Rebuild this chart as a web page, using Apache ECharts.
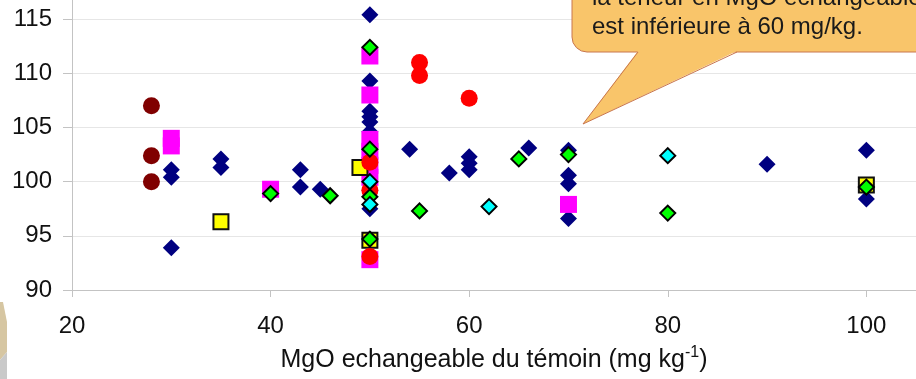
<!DOCTYPE html>
<html>
<head>
<meta charset="utf-8">
<script src="https://cdn.jsdelivr.net/npm/echarts@6/dist/echarts.min.js"></script>
<style>
  html, body { margin: 0; padding: 0; background: #fff; overflow: hidden; }
  body { position: relative; width: 916px; height: 379px; }
  /* the plot top (y = 120) sits above the visible window, as in the cropped slide */
  #chart { position: absolute; left: 0; top: -35px; width: 916px; height: 414px; }
</style>
</head>
<body>
<div id="chart"></div>
<script>
// [MgO du témoin, rendement relatif]
const navyPts = [
  [30, 101.1], [30, 100.4], [30, 93.9], [35, 102.1], [35, 101.3],
  [43, 101.1], [43, 99.5], [45, 99.3],
  [50, 115.4], [50, 109.3], [50, 106.5], [50, 106.0], [50, 105.5], [50, 104.6],
  [50, 99.2], [50, 97.5],
  [54, 103.0], [58, 100.8], [60, 102.3], [60, 101.7], [60, 101.1], [66, 103.1],
  [70, 102.9], [70, 100.6], [70, 99.8], [70, 96.6], [90, 101.6], [100, 102.9], [100, 98.4]
];
const magentaPts = [
  [30, 104.0], [30, 103.3], [40, 99.3],
  [50, 111.6], [50, 108.0], [50, 103.9], [50, 102.8], [50, 101.5], [50, 100.4], [50, 92.8],
  [70, 97.9]
];
const yellowPts = [[35, 96.3], [49, 101.3], [50, 94.6], [100, 99.7]];
const darkRedPts = [[28, 107.0], [28, 102.4], [28, 100.0]];
const redPts = [[50, 101.8], [50, 99.2], [50, 93.1], [55, 111.0], [55, 109.8], [60, 107.7]];
const greenPts = [
  [40, 98.9], [46, 98.7], [50, 112.4], [50, 103.0], [50, 98.6], [50, 94.7],
  [55, 97.3], [65, 102.1], [70, 102.5], [80, 97.1], [100, 99.5]
];
const cyanPts = [[50, 100.0], [50, 97.9], [62, 97.7], [80, 102.4]];

const xTicks = [20, 40, 60, 80, 100];
const yTicks = [90, 95, 100, 105, 110, 115];

const chart = echarts.init(document.getElementById('chart'));

const font = 'Liberation Sans, Arial, sans-serif';
const dy = 35; // chart div is shifted up by this much

const option = {
  animation: false,
  backgroundColor: '#ffffff',
  grid: { left: 72, right: 0, top: 0, bottom: 89 },
  xAxis: {
    type: 'value',
    min: 20,
    max: 105,
    interval: 20,
    axisLine: { show: true, lineStyle: { color: '#c3c3c3', width: 1 } },
    axisTick: { show: true, length: 7, lineStyle: { color: '#c3c3c3' } },
    splitLine: { show: false },
    axisLabel: {
      color: '#111', fontSize: 24, fontFamily: font,
      margin: 24, showMaxLabel: false,
      formatter: v => xTicks.includes(v) ? String(v) : ''
    },
    name: '{t|MgO echangeable du témoin (mg kg}{s|-1}{t|)}',
    nameLocation: 'middle',
    nameGap: 55,
    nameTextStyle: {
      rich: {
        t: { fontSize: 25, color: '#111', fontFamily: font },
        s: { fontSize: 16, color: '#111', fontFamily: font, padding: [0, 0, 14, 0] }
      }
    }
  },
  yAxis: {
    type: 'value',
    min: 90,
    max: 120,
    interval: 5,
    axisLine: { show: true, lineStyle: { color: '#c3c3c3', width: 1 } },
    axisTick: { show: true, length: 9, lineStyle: { color: '#c3c3c3' } },
    splitLine: { show: true, lineStyle: { color: '#e6e6e6', width: 1 } },
    axisLabel: {
      color: '#111', fontSize: 24, fontFamily: font,
      margin: 20,
      formatter: v => yTicks.includes(v) ? String(v) : ''
    }
  },
  series: [
    { name: 'navy', type: 'scatter', data: navyPts, symbol: 'diamond', symbolSize: 17,
      itemStyle: { color: '#000080', opacity: 1 } },
    { name: 'magenta', type: 'scatter', data: magentaPts, symbol: 'rect', symbolSize: [17, 17],
      itemStyle: { color: '#ff00ff', opacity: 1 } },
    { name: 'yellow', type: 'scatter', data: yellowPts, symbol: 'rect', symbolSize: 15,
      itemStyle: { color: '#ffff00', borderColor: '#111', borderWidth: 2, opacity: 1 } },
    { name: 'darkred', type: 'scatter', data: darkRedPts, symbol: 'circle', symbolSize: 17,
      itemStyle: { color: '#800000', opacity: 1 } },
    { name: 'red', type: 'scatter', data: redPts, symbol: 'circle', symbolSize: 17,
      itemStyle: { color: '#ff0000', opacity: 1 } },
    { name: 'green', type: 'scatter', data: greenPts, symbol: 'diamond', symbolSize: 15,
      itemStyle: { color: '#00ff00', borderColor: '#000', borderWidth: 2, opacity: 1 } },
    { name: 'cyan', type: 'scatter', data: cyanPts, symbol: 'diamond', symbolSize: 15,
      itemStyle: { color: '#00ffff', borderColor: '#000', borderWidth: 2, opacity: 1 } }
  ],
  graphic: [
    {
      type: 'rect', z: 100,
      shape: { x: 572, y: -40 + dy, width: 380, height: 92, r: [0, 0, 0, 15] },
      style: { fill: '#f9c56a', stroke: '#c8764e', lineWidth: 1 }
    },
    {
      type: 'polygon', z: 101,
      shape: { points: [[638, 51 + dy], [583, 124 + dy], [737, 51 + dy]] },
      style: { fill: '#f9c56a' }
    },
    {
      type: 'polyline', z: 102,
      shape: { points: [[638, 52 + dy], [583, 124 + dy], [737, 52 + dy]] },
      style: { stroke: '#c8764e', lineWidth: 1, fill: null }
    },
    {
      type: 'text', z: 103, x: 592, y: -16 + dy,
      style: {
        text: 'la teneur en MgO échangeable\nest inférieure à 60 mg/kg.',
        font: '24px "Liberation Sans", Arial, sans-serif', fill: '#1a1a1a', lineHeight: 29
      }
    },
    {
      type: 'polygon', z: 100,
      shape: { points: [[0, 302 + dy], [3, 302 + dy], [7, 322 + dy], [7, 352 + dy], [0, 360 + dy]] },
      style: { fill: '#d6c6a2' }
    },
    {
      type: 'polygon', z: 100,
      shape: { points: [[0, 360 + dy], [7, 352 + dy], [7, 379 + dy], [0, 379 + dy]] },
      style: { fill: '#c9c9c9' }
    }
  ]
};

chart.setOption(option);
</script>
</body>
</html>
